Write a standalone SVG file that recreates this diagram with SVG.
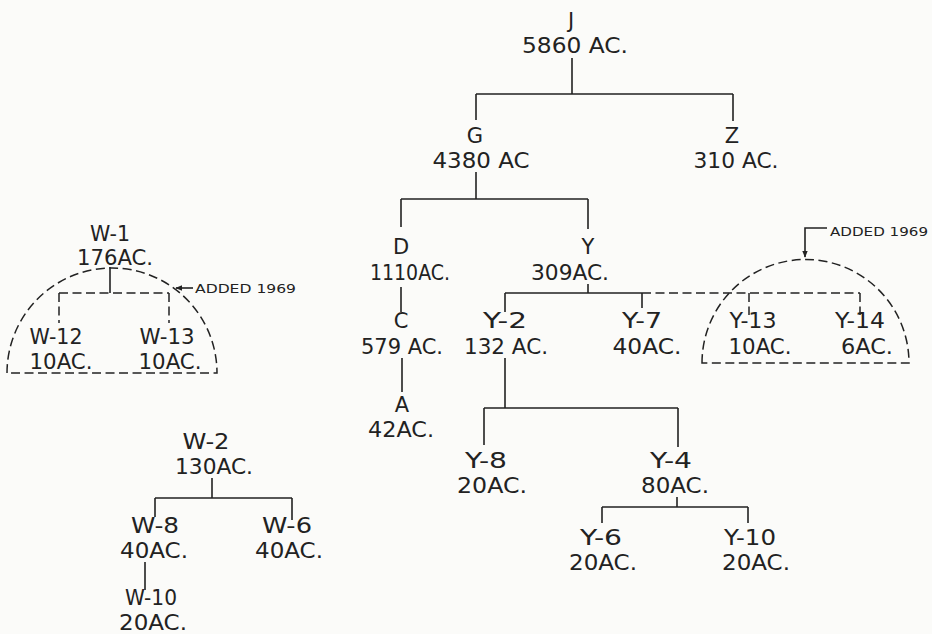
<svg xmlns="http://www.w3.org/2000/svg" width="932" height="634" viewBox="0 0 932 634">
<defs>
<marker id="ah" viewBox="0 0 10 10" refX="9" refY="5" markerWidth="7" markerHeight="7" markerUnits="userSpaceOnUse" orient="auto">
<path d="M0,1 L10,5 L0,9 Z" fill="#222"/>
</marker>
<style>
text{font-family:"DejaVu Sans","Liberation Sans",sans-serif;font-size:21px;fill:#222;text-anchor:middle}
.note{font-size:13px;text-anchor:start}
.ln{fill:none;stroke:#222;stroke-width:1.6}
.dash{fill:none;stroke:#222;stroke-width:1.5;stroke-dasharray:9 4.5}
</style>
</defs>
<rect width="932" height="634" fill="#fbfbf9"/>
<g id="connectors">
<path class="ln" d="M572,58 V94 M476,94 H733 M476,94 V120 M733,94 V121"/>
<path class="ln" d="M476,172 V199 M401,199 H588 M401,199 V227 M588,199 V229"/>
<path class="ln" d="M401,287 V312 M402,358 V392"/>
<path class="ln" d="M588,284 V293 M505,293 H642 M505,293 V312 M642,293 V308"/>
<path class="ln" d="M505,358 V408 M484,408 H678 M484,408 V445 M678,408 V447"/>
<path class="ln" d="M677,497 V507 M602,507 H748 M602,507 V523 M748,507 V523"/>
<path class="ln" d="M212,478 V498 M155,498 H292 M155,498 V517 M292,498 V520 M145,562 V590"/>
<path class="ln" d="M110,267 V293"/>
<path class="dash" d="M642,293 H860 M749,293 V315 M860,293 V315"/>
<path class="dash" d="M59,293 H169 M59,293 V323 M169,293 V323"/>
<path class="dash" d="M7,373 A105,105 0 0 1 217,373 Z"/>
<path class="dash" d="M702,363 A103.5,103.5 0 0 1 909,363 Z"/>
<path class="ln" d="M193,288 H176" marker-end="url(#ah)"/>
<path class="ln" d="M827,228 H805 V257" marker-end="url(#ah)"/>
</g>
<g id="J"><text x="571" y="28">J</text><text x="575" y="53" textLength="106" lengthAdjust="spacingAndGlyphs">5860 AC.</text></g>
<g id="G"><text x="475" y="143">G</text><text x="481" y="168" textLength="97" lengthAdjust="spacingAndGlyphs">4380 AC</text></g>
<g id="Z"><text x="732" y="143">Z</text><text x="736" y="168" textLength="85" lengthAdjust="spacingAndGlyphs">310 AC.</text></g>
<g id="D"><text x="401" y="254">D</text><text x="410" y="280" textLength="80" lengthAdjust="spacingAndGlyphs">1110AC.</text></g>
<g id="Y"><text x="588" y="254">Y</text><text x="570" y="280" textLength="78" lengthAdjust="spacingAndGlyphs">309AC.</text></g>
<g id="C"><text x="401" y="328">C</text><text x="402" y="354" textLength="82" lengthAdjust="spacingAndGlyphs">579 AC.</text></g>
<g id="A"><text x="402" y="412">A</text><text x="401" y="437" textLength="66" lengthAdjust="spacingAndGlyphs">42AC.</text></g>
<g id="Y-2"><text x="505" y="328" textLength="44" lengthAdjust="spacingAndGlyphs">Y-2</text><text x="506" y="354" textLength="84" lengthAdjust="spacingAndGlyphs">132 AC.</text></g>
<g id="Y-7"><text x="642" y="328" textLength="40" lengthAdjust="spacingAndGlyphs">Y-7</text><text x="647" y="354" textLength="69" lengthAdjust="spacingAndGlyphs">40AC.</text></g>
<g id="Y-13"><text x="753" y="328" textLength="47" lengthAdjust="spacingAndGlyphs">Y-13</text><text x="760" y="354" textLength="63" lengthAdjust="spacingAndGlyphs">10AC.</text></g>
<g id="Y-14"><text x="860" y="328" textLength="50" lengthAdjust="spacingAndGlyphs">Y-14</text><text x="867" y="354" textLength="52" lengthAdjust="spacingAndGlyphs">6AC.</text></g>
<g id="Y-8"><text x="486" y="468" textLength="42" lengthAdjust="spacingAndGlyphs">Y-8</text><text x="492" y="493" textLength="70" lengthAdjust="spacingAndGlyphs">20AC.</text></g>
<g id="Y-4"><text x="671" y="468" textLength="42" lengthAdjust="spacingAndGlyphs">Y-4</text><text x="675" y="493" textLength="68" lengthAdjust="spacingAndGlyphs">80AC.</text></g>
<g id="Y-6"><text x="601" y="545" textLength="42" lengthAdjust="spacingAndGlyphs">Y-6</text><text x="603" y="570" textLength="68" lengthAdjust="spacingAndGlyphs">20AC.</text></g>
<g id="Y-10"><text x="750" y="545" textLength="52" lengthAdjust="spacingAndGlyphs">Y-10</text><text x="756" y="570" textLength="68" lengthAdjust="spacingAndGlyphs">20AC.</text></g>
<g id="W-1"><text x="110" y="241" textLength="40" lengthAdjust="spacingAndGlyphs">W-1</text><text x="115" y="265" textLength="76" lengthAdjust="spacingAndGlyphs">176AC.</text></g>
<g id="W-12"><text x="56" y="344" textLength="53" lengthAdjust="spacingAndGlyphs">W-12</text><text x="61" y="369" textLength="63" lengthAdjust="spacingAndGlyphs">10AC.</text></g>
<g id="W-13"><text x="167" y="344" textLength="55" lengthAdjust="spacingAndGlyphs">W-13</text><text x="170" y="369" textLength="63" lengthAdjust="spacingAndGlyphs">10AC.</text></g>
<g id="W-2"><text x="206" y="449" textLength="47" lengthAdjust="spacingAndGlyphs">W-2</text><text x="214" y="474" textLength="78" lengthAdjust="spacingAndGlyphs">130AC.</text></g>
<g id="W-8"><text x="155" y="533" textLength="48" lengthAdjust="spacingAndGlyphs">W-8</text><text x="154" y="558" textLength="68" lengthAdjust="spacingAndGlyphs">40AC.</text></g>
<g id="W-6"><text x="287" y="533" textLength="50" lengthAdjust="spacingAndGlyphs">W-6</text><text x="289" y="558" textLength="68" lengthAdjust="spacingAndGlyphs">40AC.</text></g>
<g id="W-10"><text x="151" y="605" textLength="52" lengthAdjust="spacingAndGlyphs">W-10</text><text x="153" y="630" textLength="68" lengthAdjust="spacingAndGlyphs">20AC.</text></g>
<g id="note-w"><text class="note" x="195" y="293" textLength="101" lengthAdjust="spacingAndGlyphs">ADDED 1969</text></g>
<g id="note-y"><text class="note" x="830" y="236" textLength="98" lengthAdjust="spacingAndGlyphs">ADDED 1969</text></g>
</svg>
